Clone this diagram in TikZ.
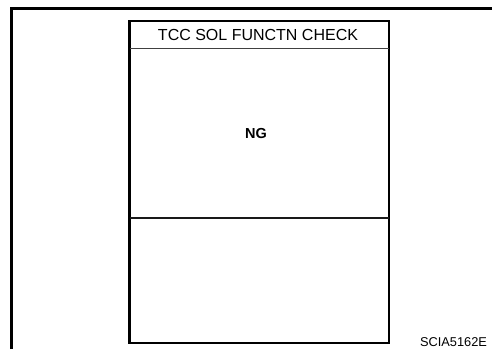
\documentclass[tikz,border=0pt]{standalone}
\usepackage{fontspec}
\setmainfont{Liberation Sans}
\begin{document}
\begin{tikzpicture}[x=1pt,y=-1pt]
\useasboundingbox (0,0) rectangle (492,349);
\draw[line width=3.3pt] (11.7,349) -- (11.7,8.3) -- (492,8.3);
\draw[line width=2.6pt] (129.5,21) rectangle (389,343);
\draw[line width=1pt, black!75] (129.5,48.3) -- (389,48.3);
\draw[line width=2.5pt, black!90] (129.5,218) -- (389,218);
\node[anchor=base, font=\fontsize{16}{19}\selectfont] (title) at (258,40) {TCC SOL FUNCTN CHECK};
\node[anchor=base, font=\fontsize{14.5}{17}\selectfont\bfseries] (ng) at (256,138) {NG};
\node[anchor=base, font=\fontsize{12.8}{15}\selectfont] (code) at (453.5,346) {SCIA5162E};
\end{tikzpicture}
\end{document}
